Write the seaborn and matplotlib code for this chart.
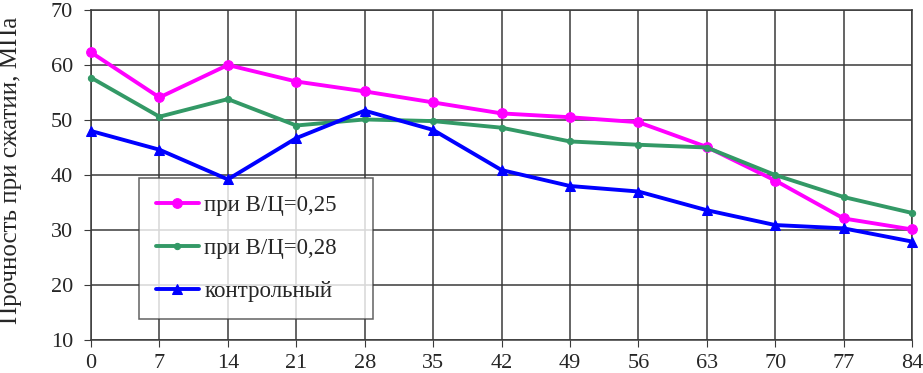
import pandas as pd
import matplotlib
matplotlib.use('Agg')
import matplotlib.pyplot as plt
import seaborn as sns

# Values
days = [0, 7, 14, 21, 28, 35, 42, 49, 56, 63, 70, 77, 84]
wc_025 = [62.3, 54.1, 60.0, 57.0, 55.2, 53.2, 51.2, 50.5, 49.6, 45.1, 39.0, 32.1, 30.1]
wc_028 = [57.7, 50.6, 53.8, 49.0, 50.1, 49.8, 48.6, 46.1, 45.5, 45.0, 40.0, 36.0, 33.1]
control = [48.0, 44.6, 39.2, 46.7, 51.7, 48.2, 40.9, 38.0, 37.0, 33.6, 30.9, 30.3, 27.9]

labels = ['при В/Ц=0,25', 'при В/Ц=0,28', 'контрольный']
colors = ['#FF00FF', '#339966', '#0000FF']
markers = ['o', 'o', '^']
msizes = [7, 4.5, 7.5]

sns.set_style('white')
plt.rcParams['font.family'] = ['Liberation Serif', 'DejaVu Serif']

fig = plt.figure(figsize=(9.23, 3.73), dpi=100)
ax = fig.add_axes([91 / 923, 1 - 340 / 373, (912 - 91) / 923, 330 / 373])

for vals, lab, col, mk, ms in zip([wc_025, wc_028, control], labels, colors, markers, msizes):
    df = pd.DataFrame({'day': days, 'value': vals})
    sns.lineplot(data=df, x='day', y='value', ax=ax, color=col, marker=mk,
                 markersize=ms, markeredgecolor=col, linewidth=2.8, label=lab,
                 clip_on=False, zorder=3)

ax.set_xlim(0, 84)
ax.set_ylim(10, 70)
ax.set_xticks(days)
ax.set_yticks(range(10, 71, 10))
ax.grid(True, color='#3a3a3a', linewidth=1.1)
for s in ax.spines.values():
    s.set_color('#3a3a3a')
    s.set_linewidth(1.1)
ax.tick_params(axis='both', labelsize=16, length=5, direction='out',
               color='#3a3a3a', bottom=True, left=True)
ax.tick_params(axis='x', pad=5)
ax.tick_params(axis='y', pad=8)
ax.set_xlabel('')
ax.set_ylabel('')
fig.text(11 / 923, 1 - 170 / 373, 'Прочность при сжатии, МПа', fontsize=18,
         rotation=90, ha='center', va='center')

leg = ax.legend(loc='upper left', bbox_to_anchor=(48 / 821, (340 - 178) / 330, 234 / 821, 0),
                mode='expand', fontsize=16.5, frameon=True, fancybox=False,
                edgecolor='#3a3a3a', handlelength=1.85, handletextpad=0.25,
                labelspacing=0.95, borderaxespad=0, borderpad=0.75)
leg.get_frame().set_linewidth(1.1)
leg.set_zorder(2.5)

fig.savefig('out.png', dpi=100)
